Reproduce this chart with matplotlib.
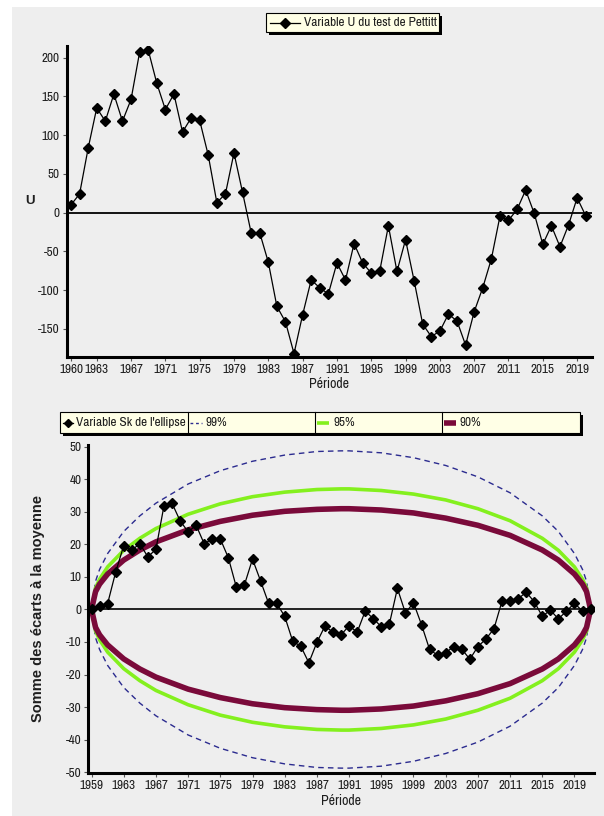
import matplotlib
matplotlib.use("Agg")
import matplotlib.pyplot as plt
import matplotlib.font_manager as fm
from matplotlib.patches import Rectangle
from matplotlib.lines import Line2D

# ---------------- font choice (narrow font like the reference) ----------------
_names = {f.name for f in fm.fontManager.ttflist}
FAM, FS = 'Liberation Sans', 8
for cand, size in (('Liberation Sans Narrow', 9.5), ('Arial Narrow', 9.5),
                   ('Archivo Narrow', 9.5), ('Roboto Condensed', 9)):
    if cand in _names:
        FAM, FS = cand, size
        break
BOLD_FAM = ['Liberation Sans', 'DejaVu Sans']
plt.rcParams['font.family'] = [FAM, 'DejaVu Sans']
plt.rcParams['axes.unicode_minus'] = False

# ---------------- data ----------------
years_u = list(range(1960, 2021))
u_values = [10, 24, 83, 135, 118, 153, 118, 146, 207, 210,
            167, 133, 153, 104, 122, 119, 74, 13, 24, 77,
            26, -26, -26, -64, -121, -141, -182, -132, -87, -97,
            -105, -65, -87, -40, -65, -78, -75, -17, -76, -35,
            -88, -144, -160, -153, -131, -140, -171, -128, -97, -60,
            -5, -10, 4, 29, -1, -41, -17, -44, -16, 19,
            -4]
u_xticks = [1960, 1963, 1967, 1971, 1975, 1979, 1983, 1987, 1991, 1995,
            1999, 2003, 2007, 2011, 2015, 2019]
u_yticks = [-150, -100, -50, 0, 50, 100, 150, 200]

years_sk = list(range(1959, 2022))
sk_values = [0, 1.2, 1.8, 11.5, 19.6, 18.3, 20.2, 16.2, 18.5, 31.9,
             32.7, 27.3, 23.9, 25.9, 20.2, 21.7, 21.7, 15.9, 6.8, 7.6,
             15.5, 8.8, 1.9, 1.9, -2.1, -9.8, -11.3, -16.4, -10.1, -5.1,
             -7.0, -7.8, -5.0, -7.0, -0.5, -2.8, -5.3, -4.5, 6.5, -1.1,
             2.1, -4.7, -12.3, -14.1, -13.3, -11.4, -12.2, -15.3, -11.4, -9.1,
             -5.9, 2.6, 2.6, 3.3, 5.3, 2.4, -2.1, -0.2, -2.9, -0.5,
             1.9, -0.5, 0]
ell_years = [1959, 1959.5, 1960, 1961, 1963, 1965, 1967, 1971, 1975, 1979, 1983,
             1987, 1990, 1991, 1995, 1999, 2003, 2007, 2011, 2015, 2017, 2019,
             2020, 2020.5, 2021]
ell_99 = [0, 8.7, 12.3, 17.2, 24.0, 28.8, 32.7, 38.6, 42.7, 45.6, 47.5, 48.6, 48.8,
          48.8, 48.2, 46.7, 44.3, 40.8, 35.9, 28.8, 24.0, 17.2, 12.3, 8.7, 0]
ell_95 = [0, 6.6, 9.3, 13.1, 18.2, 21.9, 24.9, 29.3, 32.5, 34.7, 36.1, 36.9, 37.1,
          37.1, 36.6, 35.5, 33.7, 31.0, 27.3, 21.9, 18.2, 13.1, 9.3, 6.6, 0]
ell_90 = [0, 5.5, 7.8, 10.9, 15.2, 18.3, 20.8, 24.5, 27.1, 29.0, 30.2, 30.8, 31.0,
          31.0, 30.6, 29.7, 28.1, 25.9, 22.8, 18.3, 15.2, 10.9, 7.8, 5.5, 0]
sk_xticks = list(range(1959, 2020, 4))
sk_yticks = list(range(-50, 51, 10))

# ---------------- figure ----------------
W, H = 604, 816
fig = plt.figure(figsize=(W / 100, H / 100), dpi=100, facecolor='white')
BG = '#EEEEEE'
TXT = '#1E1E1E'


def fx(x):
    return x / W


def fy(y):
    return 1 - y / H


fig.patches.append(Rectangle((fx(12), 0), 1 - fx(12), fy(7), transform=fig.transFigure,
                             facecolor=BG, edgecolor='none', zorder=-10))


def style_axes(ax):
    ax.set_facecolor(BG)
    ax.patch.set_alpha(0)
    for s in ('top', 'right'):
        ax.spines[s].set_visible(False)
    for s in ('left', 'bottom'):
        ax.spines[s].set_linewidth(2.2)
        ax.spines[s].set_color('black')
    ax.tick_params(direction='out', length=3, width=0.8, colors='#555555',
                   labelcolor=TXT, labelsize=FS, pad=2)


# ---------------- top chart ----------------
ax1 = fig.add_axes([fx(66.7), fy(356.7), fx(591.7) - fx(66.7), fy(46) - fy(356.7)])
style_axes(ax1)
ax1.set_xlim(1959.5, 2020.7)
ax1.set_ylim(-186, 215)
ax1.axhline(0, color='black', lw=1.3, zorder=1)
ax1.plot(years_u, u_values, color='black', lw=0.9, marker='D', ms=5,
         markerfacecolor='black', markeredgecolor='black', zorder=3)
ax1.set_xticks(u_xticks)
ax1.set_yticks(u_yticks)
ax1.set_xlabel('Période', fontsize=FS + 0.5, color=TXT, labelpad=2)
ax1.set_ylabel('U', fontsize=9.5, color=TXT, fontweight='bold', family=BOLD_FAM,
               rotation=0, labelpad=6, va='center')

# top legend
lx0, ly0, lx1, ly1 = 265.7, 12.7, 439, 32
fig.patches.append(Rectangle((fx(lx0 + 3), fy(ly1 + 3)), fx(lx1 - lx0), fy(ly0) - fy(ly1),
                             transform=fig.transFigure, facecolor='black', edgecolor='none', zorder=5))
fig.patches.append(Rectangle((fx(lx0), fy(ly1)), fx(lx1 - lx0), fy(ly0) - fy(ly1),
                             transform=fig.transFigure, facecolor='#FFFFE6', edgecolor='black',
                             lw=0.8, zorder=6))
fig.lines.append(Line2D([fx(270), fx(300)], [fy(22.5), fy(22.5)], transform=fig.transFigure,
                        color='black', lw=0.9, zorder=7))
fig.lines.append(Line2D([fx(285)], [fy(22.5)], transform=fig.transFigure, color='black',
                        marker='D', ms=5, zorder=7))
fig.text(fx(304), fy(22.5), 'Variable U du test de Pettitt', fontsize=FS, color=TXT,
         va='center', ha='left', zorder=8)

# ---------------- bottom chart ----------------
ax2 = fig.add_axes([fx(88.3), fy(773), fx(593.8) - fx(88.3), fy(445) - fy(773)])
style_axes(ax2)
ax2.set_xlim(1958.6, 2021.4)
ax2.set_ylim(-50.3, 50.6)
ax2.axhline(0, color='black', lw=1.2, zorder=1)
for vals, col, lw, ls in ((ell_99, '#2B2B8F', 1.0, (0, (4, 3))),
                          (ell_95, '#84F01E', 2.6, '-'),
                          (ell_90, '#7A0A3A', 4.0, '-')):
    ax2.plot(ell_years, vals, color=col, lw=lw, linestyle=ls, zorder=2,
             solid_capstyle='butt', solid_joinstyle='round')
    ax2.plot(ell_years, [-v for v in vals], color=col, lw=lw, linestyle=ls, zorder=2,
             solid_capstyle='butt', solid_joinstyle='round')
ax2.plot(years_sk, sk_values, color='black', lw=0.9, marker='D', ms=5,
         markerfacecolor='black', markeredgecolor='black', zorder=3)
ax2.set_xticks(sk_xticks)
ax2.set_yticks(sk_yticks)
ax2.set_xlabel('Période', fontsize=FS + 0.5, color=TXT, labelpad=2)
ax2.set_ylabel('Somme des écarts à la moyenne', fontsize=10.5, color=TXT,
               fontweight='bold', family=BOLD_FAM, labelpad=15)

# bottom legend
bx0, by0, bx1, by1 = 60, 412, 580, 433
fig.patches.append(Rectangle((fx(bx0 + 3), fy(by1 + 3)), fx(bx1 - bx0), fy(by0) - fy(by1),
                             transform=fig.transFigure, facecolor='black', edgecolor='none', zorder=5))
fig.patches.append(Rectangle((fx(bx0), fy(by1)), fx(bx1 - bx0), fy(by0) - fy(by1),
                             transform=fig.transFigure, facecolor='#FFFFE6', edgecolor='black',
                             lw=0.8, zorder=6))
for sx in (188, 315, 442):
    fig.lines.append(Line2D([fx(sx), fx(sx)], [fy(by0), fy(by1)], transform=fig.transFigure,
                            color='black', lw=0.8, zorder=7))
cy = (by0 + by1) / 2
fig.lines.append(Line2D([fx(63), fx(73)], [fy(cy), fy(cy)], transform=fig.transFigure,
                        color='black', lw=0.9, zorder=7))
fig.lines.append(Line2D([fx(68)], [fy(cy)], transform=fig.transFigure, color='black',
                        marker='D', ms=4.5, zorder=7))
fig.text(fx(76), fy(cy), "Variable Sk de l'ellipse", fontsize=FS, color=TXT,
         va='center', ha='left', zorder=8)
for x0, col, lw, ls, lab in ((189, '#2B2B8F', 1.0, (0, (2, 2)), '99%'),
                             (316, '#84F01E', 2.6, '-', '95%'),
                             (443, '#7A0A3A', 4.0, '-', '90%')):
    fig.lines.append(Line2D([fx(x0 + 1), fx(x0 + 13)], [fy(cy), fy(cy)], transform=fig.transFigure,
                            color=col, lw=lw, linestyle=ls, zorder=7, solid_capstyle='butt'))
    fig.text(fx(x0 + 17), fy(cy), lab, fontsize=FS, color=TXT, va='center', ha='left', zorder=8)

fig.savefig('out.png', dpi=100, facecolor='white')
